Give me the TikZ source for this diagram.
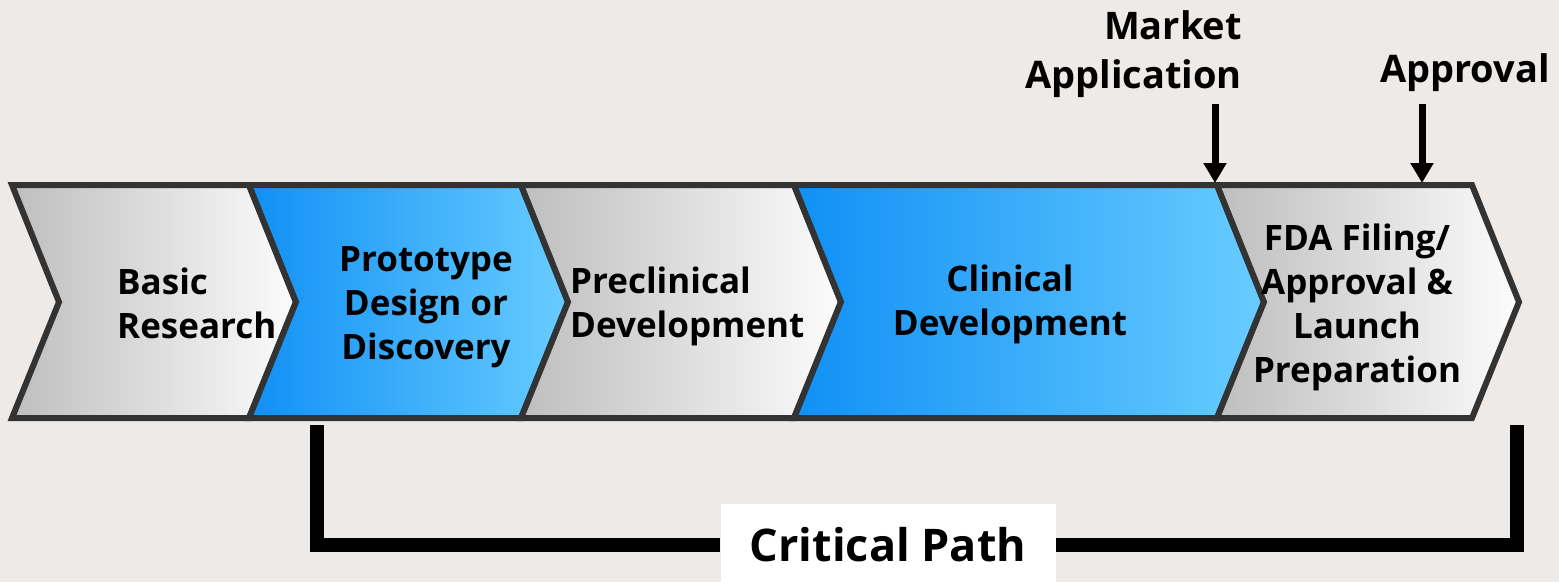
\documentclass[tikz,border=0pt]{standalone}
\usepackage{fontspec}
\setmainfont{Open Sans}
\usetikzlibrary{arrows.meta}

\definecolor{edgegrey}{RGB}{51,51,51}
\definecolor{greyleft}{RGB}{190,190,190}
\definecolor{greyright}{RGB}{252,252,252}
\definecolor{blueleft}{RGB}{16,144,245}
\definecolor{blueright}{RGB}{104,204,255}
\definecolor{backdrop}{RGB}{238,234,232}

\def\chevtop{185}
\def\chevmid{302}
\def\chevbot{418}
\def\tipw{47}

\begin{document}
\begin{tikzpicture}[x=1pt,y=-1pt]
    \tikzstyle{phase}=[draw=edgegrey,line width=6pt,line join=miter]
    \tikzstyle{greyphase}=[phase,left color=greyleft,right color=greyright]
    \tikzstyle{bluephase}=[phase,left color=blueleft,right color=blueright]
    \tikzstyle{stagetext}=[font=\bfseries\fontsize{35}{44}\selectfont,inner sep=0pt]
    \tikzstyle{milestone}=[line width=7pt,-{Triangle[length=20pt,width=22pt]}]
    \tikzstyle{bracket}=[line width=14pt,line join=miter]

    \useasboundingbox[fill=backdrop] (0,0) rectangle (1559,582);

    % stages
    \path[greyphase] (12,\chevtop) -- (249,\chevtop) -- (249+\tipw,\chevmid) -- (249,\chevbot) -- (12,\chevbot) -- (12+\tipw,\chevmid) -- cycle;
    \path[bluephase] (249,\chevtop) -- (521,\chevtop) -- (521+\tipw,\chevmid) -- (521,\chevbot) -- (249,\chevbot) -- (249+\tipw,\chevmid) -- cycle;
    \path[greyphase] (521,\chevtop) -- (794,\chevtop) -- (794+\tipw,\chevmid) -- (794,\chevbot) -- (521,\chevbot) -- (521+\tipw,\chevmid) -- cycle;
    \path[bluephase] (794,\chevtop) -- (1217,\chevtop) -- (1217+\tipw,\chevmid) -- (1217,\chevbot) -- (794,\chevbot) -- (794+\tipw,\chevmid) -- cycle;
    \path[greyphase] (1217,\chevtop) -- (1472,\chevtop) -- (1472+\tipw,\chevmid) -- (1472,\chevbot) -- (1217,\chevbot) -- (1217+\tipw,\chevmid) -- cycle;

    \node[stagetext,align=left,anchor=west] (basic) at (117,303) {Basic\\Research};
    \node[stagetext,align=center] (proto) at (426,307) {Prototype\\Design or\\Discovery};
    \node[stagetext,align=left,anchor=west] (preclin) at (570,306) {Preclinical\\Development};
    \node[stagetext,align=center] (clin) at (1010,304) {Clinical\\Development};
    \node[stagetext,align=center] (fda) at (1357,307) {FDA Filing/\\Approval \&\\Launch\\Preparation};

    % milestones
    \node[stagetext,align=right,anchor=north east,font=\bfseries\fontsize{38}{49}\selectfont] (market) at (1242,10) {Market\\Application};
    \node[stagetext,anchor=north east,font=\bfseries\fontsize{38}{49}\selectfont] (approval) at (1550,53) {Approval};
    \coordinate (mastart) at (1215,104);
    \coordinate (maend) at (1215,183);
    \coordinate (apstart) at (1422,104);
    \coordinate (apend) at (1422,183);
    \draw[milestone] (mastart) -- (maend);
    \draw[milestone] (apstart) -- (apend);

    % critical path
    \node[fill=white,minimum width=335pt,minimum height=82pt,inner sep=0pt,font=\bfseries\fontsize{45}{52}\selectfont] (critical) at (888,545) {Critical Path};
    \coordinate (cpleft) at (317,425);
    \coordinate (cpright) at (1517,425);
    \draw[bracket] (cpleft) |- (critical.west);
    \draw[bracket] (cpright) |- (critical.east);
\end{tikzpicture}
\end{document}
